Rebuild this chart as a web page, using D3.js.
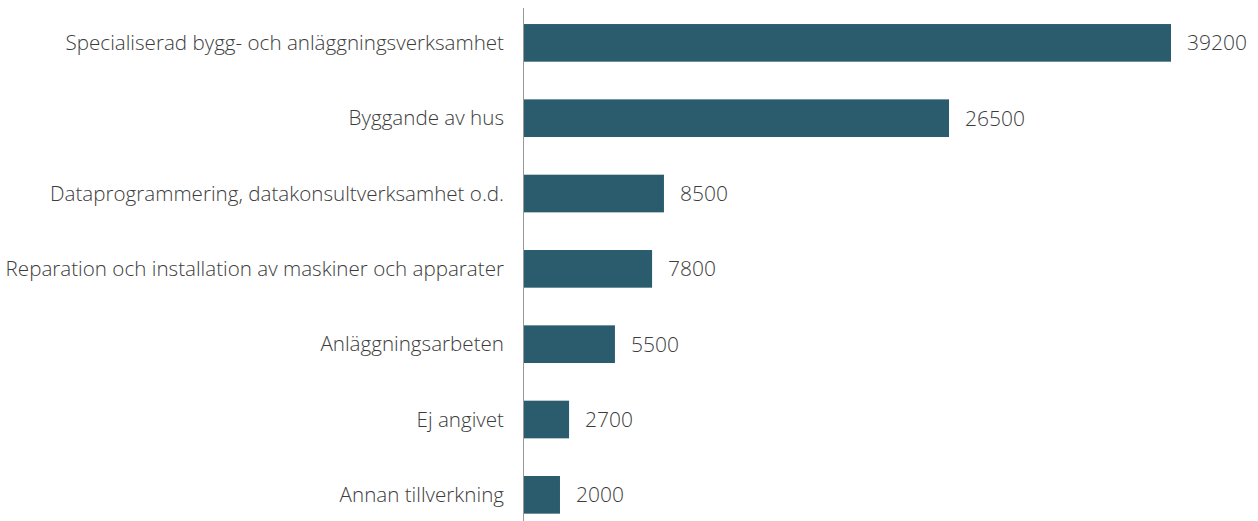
<!DOCTYPE html>
<html>
<head>
<meta charset="utf-8">
<script src="https://cdn.jsdelivr.net/npm/d3@7"></script>
<style>
  body { margin: 0; background: #fff; }
  svg { display: block; }
</style>
</head>
<body>
<svg id="chart"></svg>
<script>
var categories = [
  "Specialiserad bygg- och anläggningsverksamhet",
  "Byggande av hus",
  "Dataprogrammering, datakonsultverksamhet o.d.",
  "Reparation och installation av maskiner och apparater",
  "Anläggningsarbeten",
  "Ej angivet",
  "Annan tillverkning"
];
// bar lengths
var values = [39200, 25750, 8480, 7760, 5510, 2730, 2180];
// printed labels
var valueLabels = ["39200", "26500", "8500", "7800", "5500", "2700", "2000"];

var width = 1258, height = 521;
var axisX = 524;

var svg = d3.select("#chart")
    .attr("width", width)
    .attr("height", height);

var x = d3.scaleLinear()
    .domain([0, 39200])
    .range([axisX, 1171]);

var y = d3.scaleBand()
    .domain(categories)
    .range([5.2, 532.5])
    .paddingInner(0.5)
    .paddingOuter(0.25);

svg.selectAll(".bar")
    .data(categories)
  .enter().append("rect")
    .attr("class", "bar")
    .attr("x", x(0))
    .attr("y", d => y(d))
    .attr("width", (d, i) => x(values[i]) - x(0))
    .attr("height", y.bandwidth())
    .attr("fill", "#2b5c6e");

svg.selectAll(".cat")
    .data(categories)
  .enter().append("text")
    .attr("class", "cat")
    .attr("x", axisX - 20)
    .attr("y", d => y(d) + y.bandwidth() / 2)
    .attr("dy", "0.35em")
    .attr("text-anchor", "end")
    .attr("font-family", "'Open Sans', sans-serif")
    .attr("font-weight", 300)
    .attr("font-size", 20.6)
    .attr("fill", "#3c3c3c")
    .text(d => d);

svg.selectAll(".val")
    .data(categories)
  .enter().append("text")
    .attr("class", "val")
    .attr("x", (d, i) => x(values[i]) + 16)
    .attr("y", d => y(d) + y.bandwidth() / 2)
    .attr("dy", "0.35em")
    .attr("font-family", "'Open Sans', sans-serif")
    .attr("font-weight", 300)
    .attr("font-size", 21)
    .attr("fill", "#3c3c3c")
    .text((d, i) => valueLabels[i]);

svg.append("line")
    .attr("x1", axisX - 0.5)
    .attr("x2", axisX - 0.5)
    .attr("y1", 8)
    .attr("y2", height)
    .attr("stroke", "#999")
    .attr("stroke-width", 1);
</script>
</body>
</html>
